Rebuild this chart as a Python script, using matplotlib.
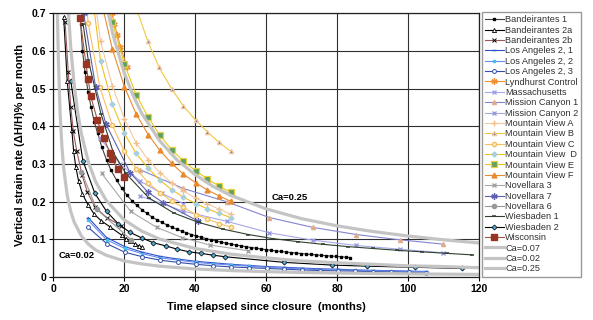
import matplotlib
matplotlib.use('Agg')
import matplotlib.pyplot as plt

plt.rcParams['font.family'] = ['Liberation Sans', 'DejaVu Sans']
plt.rcParams['font.weight'] = 'bold'

# ── data (time in months, strain rate in % per month) ──────────────
band1_t = [7.8, 8.3, 9.0, 9.9, 10.7, 11.6, 12.6, 13.7, 15.1, 16.3, 17.9, 19.4,
           20.8, 22.2, 23.6, 25.0, 26.4, 27.8, 29.2, 30.6, 32.0, 33.4, 34.8,
           36.2, 37.6, 39.0, 40.4, 41.8, 43.2, 44.6, 46.0, 47.4, 48.8, 50.2,
           51.6, 53.0, 54.4, 55.8, 57.2, 58.6, 60.0, 61.4, 62.8, 64.2, 65.6,
           67.0, 68.4, 69.8, 71.2, 72.6, 74.0, 75.4, 76.8, 78.2, 79.6, 81.0,
           82.4, 83.7]
band1_r = [0.671, 0.600, 0.545, 0.490, 0.452, 0.412, 0.381, 0.346, 0.310, 0.284,
           0.257, 0.235, 0.2175, 0.2027, 0.190, 0.179, 0.169, 0.160, 0.152,
           0.145, 0.139, 0.133, 0.127, 0.122, 0.1175, 0.113, 0.109, 0.1055,
           0.102, 0.0987, 0.0957, 0.0928, 0.090, 0.0875, 0.085, 0.083, 0.0805,
           0.0785, 0.0766, 0.0747, 0.0728, 0.0712, 0.0696, 0.068, 0.0666,
           0.0652, 0.0639, 0.0626, 0.0614, 0.0602, 0.059, 0.0579, 0.0569,
           0.0559, 0.0549, 0.054, 0.053, 0.052]

band2a_t = [3.0, 4.0, 5.3, 5.8, 6.4, 7.2, 8.3, 9.9, 11.6, 13.5, 16.1, 19.4,
            20.5, 21.7, 23.1, 24.2, 25.2]
band2a_r = [0.69, 0.52, 0.390, 0.335, 0.293, 0.255, 0.220, 0.191, 0.167, 0.150,
            0.133, 0.111, 0.102, 0.095, 0.088, 0.083, 0.079]

band2b_t = [3.4, 4.3, 5.0, 5.7, 6.7, 8.2, 9.7, 11.8, 15.1, 19.2]
band2b_r = [0.677, 0.543, 0.452, 0.387, 0.334, 0.270, 0.225, 0.186, 0.158, 0.136]

la_t = [9.9, 15.1, 20.2, 25.2, 30.2, 35.2, 40.2, 45.2, 50.2, 55.2, 60.2,
        65.2, 70.2, 75.2, 80.2, 85.2, 90.2, 95.2, 100.2, 105.2]
la1_r = [0.158, 0.105, 0.081, 0.066, 0.055, 0.048, 0.042, 0.038, 0.034, 0.031,
         0.028, 0.026, 0.024, 0.022, 0.021, 0.019, 0.018, 0.017, 0.016, 0.015]
la2_r = [0.151, 0.099, 0.076, 0.062, 0.051, 0.045, 0.039, 0.035, 0.032, 0.029,
         0.026, 0.024, 0.022, 0.020, 0.019, 0.018, 0.017, 0.016, 0.015, 0.014]
la3_r = [0.132, 0.089, 0.066, 0.054, 0.045, 0.039, 0.034, 0.030, 0.027, 0.025,
         0.023, 0.021, 0.019, 0.0175, 0.0165, 0.0155, 0.0145, 0.0135, 0.0125,
         0.0115]

lynd_t = [16.6, 17.3, 18.1, 19.0, 20.9]
lynd_r = [0.700, 0.672, 0.642, 0.611, 0.556]

mass_t = [13.2, 18.9, 24.5, 30.6, 36.7]
mass_r = [0.370, 0.300, 0.255, 0.222, 0.195]

mc_t = [24.5, 36.7, 48.9, 60.9, 73.1, 85.4, 97.6, 109.8]
mc1_r = [0.285, 0.235, 0.200, 0.158, 0.132, 0.113, 0.099, 0.0875]
mc2_r = [0.215, 0.175, 0.148, 0.1176, 0.098, 0.084, 0.074, 0.0645]

mv_t = [10.1, 13.4, 16.7, 20.1, 23.4, 26.8, 30.1, 33.4, 36.7, 40.2, 43.5,
        46.8, 50.0]
mva_r = [0.85, 0.625, 0.507, 0.420, 0.356, 0.311, 0.277, 0.250, 0.228, 0.210,
         0.194, 0.180, 0.167]
mvd_r = [0.82, 0.573, 0.459, 0.381, 0.328, 0.289, 0.257, 0.232, 0.212, 0.195,
         0.181, 0.169, 0.158]
mvc_t = [6.6, 9.9, 13.2, 16.7, 20.0, 23.4, 26.8, 30.1, 33.4, 36.7, 40.2,
         43.5, 46.8, 50.0]
mvc_r = [1.0, 0.674, 0.503, 0.403, 0.335, 0.288, 0.250, 0.224, 0.2015, 0.185,
         0.166, 0.154, 0.142, 0.133]
mvb_t = [23.4, 26.7, 29.9, 33.4, 36.7, 40.2, 43.5, 46.8, 50.0]
mvb_r = [0.715, 0.625, 0.556, 0.4995, 0.454, 0.416, 0.385, 0.357, 0.334]
mve_t = [13.4, 16.7, 20.1, 23.4, 26.8, 30.1, 33.4, 36.7, 40.2, 43.5, 46.8, 50.0]
mve_r = [0.83, 0.677, 0.565, 0.484, 0.424, 0.376, 0.338, 0.308, 0.282, 0.260,
         0.241, 0.225]
mvf_t = [13.4, 16.7, 20.1, 23.4, 26.8, 30.1, 33.4, 36.7, 40.2, 43.5, 46.8, 50.0]
mvf_r = [0.74, 0.605, 0.505, 0.433, 0.378, 0.336, 0.302, 0.273, 0.250, 0.231,
         0.215, 0.2015]

nov3_t = [13.7, 21.9, 29.2, 36.3, 44.2, 55.0]
nov3_r = [0.275, 0.174, 0.132, 0.105, 0.085, 0.070]
nov7_t = [8.6, 12.0, 14.9, 21.7, 26.8, 31.1, 40.9]
nov7_r = [0.700, 0.504, 0.406, 0.277, 0.2245, 0.197, 0.1485]
nov6_t = [8.0, 12.3, 22.0]
nov6_r = [0.280, 0.180, 0.099]

wies1_t = [8.5, 9.9, 13.5, 17, 20.5, 27, 34, 41, 48, 55, 62, 69, 76, 83, 90,
           97, 104, 111, 118]
wies1_r = [0.670, 0.577, 0.433, 0.330, 0.275, 0.210, 0.170, 0.145, 0.127, 0.113,
           0.102, 0.094, 0.087, 0.081, 0.076, 0.071, 0.067, 0.063, 0.059]
wies2_t = [5.0, 8.4, 11.8, 15.1, 18.4, 21.7, 25.0, 28.3, 31.7, 35.0, 38.4,
           41.7, 45.2, 48.5, 65.2, 78.5, 88.5, 102, 115.3]
wies2_r = [0.520, 0.309, 0.222, 0.174, 0.141, 0.1185, 0.104, 0.091, 0.083,
           0.074, 0.067, 0.063, 0.058, 0.054, 0.039, 0.032, 0.029, 0.026, 0.023]

wisc_t = [7.6, 9.3, 9.9, 10.6, 12.5, 13.3, 14.3, 16.1, 16.6, 18.4, 20.0]
wisc_r = [0.687, 0.564, 0.525, 0.480, 0.417, 0.393, 0.369, 0.328, 0.312, 0.286,
          0.2645]

ca07_t = [4.2, 5, 6, 7, 8, 10, 12, 15, 20, 25, 30, 40, 50, 60, 70, 80, 90,
          100, 110, 120]
ca07_r = [0.724, 0.608, 0.507, 0.434, 0.380, 0.304, 0.253, 0.203, 0.152, 0.122,
          0.101, 0.076, 0.061, 0.051, 0.043, 0.038, 0.034, 0.030, 0.028, 0.025]
ca02_t = [1.2, 1.5, 2, 2.5, 3, 4, 5, 6, 8, 10, 12, 15, 20, 25, 30, 40, 50, 60,
          70, 80, 90, 100, 110, 120]
ca02_r = [0.72, 0.58, 0.434, 0.347, 0.289, 0.217, 0.174, 0.145, 0.109, 0.087,
          0.072, 0.058, 0.043, 0.035, 0.029, 0.0217, 0.0174, 0.0145, 0.0124,
          0.0109, 0.0096, 0.0087, 0.0079, 0.0072]
ca25_t = [15, 17, 20, 22.5, 25, 30, 35, 40, 45, 50, 60, 70, 80, 90, 100, 110,
          120]
ca25_r = [0.724, 0.639, 0.543, 0.483, 0.434, 0.362, 0.310, 0.272, 0.241, 0.217,
          0.181, 0.155, 0.136, 0.121, 0.109, 0.099, 0.0905]

AST = (6, 2, 0)   # asterisk marker
series = [
    ('Bandeirantes 1', band1_t, band1_r, dict(color='#404040', marker='s', ms=1.8, mfc='black', mec='black')),
    ('Bandeirantes 2a', band2a_t, band2a_r, dict(color='black', marker='^', ms=3, mfc='white', mec='black', mew=0.6)),
    ('Bandeirantes 2b', band2b_t, band2b_r, dict(color='#9A5A5A', marker='x', ms=3, mec='black', mew=0.7)),
    ('Los Angeles 2, 1', la_t, la1_r, dict(color='#3050C8', marker='_', ms=3.5, mec='#3050C8')),
    ('Los Angeles 2, 2', la_t, la2_r, dict(color='#6A8CF0', marker='s', ms=2, mfc='#40C0F0', mec='#40C0F0')),
    ('Los Angeles 2, 3', la_t, la3_r, dict(color='#3450A8', marker='o', ms=2.8, mfc='white', mec='#3450A8', mew=0.7)),
    ('Lyndhurst Control', lynd_t, lynd_r, dict(color='#F09030', marker=AST, ms=4.5, mec='#F09030')),
    ('Massachusetts', mass_t, mass_r, dict(color='#A8A8F0', marker='x', ms=3, mec='#A0A0E8')),
    ('Mission Canyon 1', mc_t, mc1_r, dict(color='#8484D0', marker='^', ms=3, mfc='#D8A070', mec='#E0B090')),
    ('Mission Canyon 2', mc_t, mc2_r, dict(color='#A8A8E8', marker='x', ms=3, mec='#9898E0')),
    ('Mountain View A', mv_t, mva_r, dict(color='#F5C9A0', marker='+', ms=4, mec='#F0C090')),
    ('Mountain View B', mvb_t, mvb_r, dict(color='#F0C840', marker='^', ms=3, mfc='#6A6A9A', mec='#F0C8A0')),
    ('Mountain View C', mvc_t, mvc_r, dict(color='#F5C060', marker='o', ms=3, mfc='#FFF0C8', mec='#F0C060')),
    ('Mountain View  D', mv_t, mvd_r, dict(color='#F0C020', marker='D', ms=2.5, mfc='#A8D0DC', mec='#A8D0DC')),
    ('Mountain View E', mve_t, mve_r, dict(color='#E8C820', marker='s', ms=3.8, mfc='#60A060', mec='#E8D040', mew=0.9)),
    ('Mountain View F', mvf_t, mvf_r, dict(color='#E88A30', marker='^', ms=3.5, mfc='#E88A30', mec='#E88A30')),
    ('Novellara 3', nov3_t, nov3_r, dict(color='#A8A8A8', marker='x', ms=3, mec='#A0A0A0')),
    ('Novellara 7', nov7_t, nov7_r, dict(color='#6060B0', marker=AST, ms=4.5, mec='#6060B0')),
    ('Novellara 6', nov6_t, nov6_r, dict(color='#999999', marker='o', ms=3, mfc='#999999', mec='#999999')),
    ('Wiesbaden 1', wies1_t, wies1_r, dict(color='#2F402F', marker='_', ms=3.5, mec='#2F402F', mew=1.1)),
    ('Wiesbaden 2', wies2_t, wies2_r, dict(color='black', marker='D', ms=2.6, mfc='#50A8D0', mec='black', mew=0.5)),
    ('Wisconsin', wisc_t, wisc_r, dict(color='#A05545', marker='s', ms=4, mfc='#993322', mec='#993322')),
    ('Ca=0.07', ca07_t, ca07_r, dict(color='#C4C4C4', lw=2.3)),
    ('Ca=0.02', ca02_t, ca02_r, dict(color='#C4C4C4', lw=2.3)),
    ('Ca=0.25', ca25_t, ca25_r, dict(color='#C4C4C4', lw=2.3)),
]

fig = plt.figure(figsize=(5.93, 3.2), dpi=100)
ax = fig.add_axes([0.0894, 0.134, 0.7184, 0.825])

for label, t, r, st in series:
    st = dict(st)
    st.setdefault('lw', 0.8)
    ax.plot(t, r, label=label, **st)

ax.set_xlim(0, 120)
ax.set_ylim(0, 0.7)
ax.set_xticks(range(0, 121, 20))
ax.set_yticks([0, 0.1, 0.2, 0.3, 0.4, 0.5, 0.6, 0.7])
ax.set_yticklabels(['0', '0.1', '0.2', '0.3', '0.4', '0.5', '0.6', '0.7'])
ax.grid(True, color='#303030', lw=0.8)
ax.set_axisbelow(True)
for s in ax.spines.values():
    s.set_color('#202020')
    s.set_linewidth(0.9)
ax.tick_params(direction='out', length=3, width=0.8, labelsize=7.5, pad=2)
for lab in ax.get_xticklabels() + ax.get_yticklabels():
    lab.set_fontweight('bold')

ax.set_xlabel('Time elapsed since closure  (months)', fontsize=8, fontweight='bold', labelpad=6)
ax.set_ylabel('Vertical strain rate (ΔH/H)% per month', fontsize=8, fontweight='bold', labelpad=5)

ax.text(61.5, 0.21, 'Ca=0.25', fontsize=6.8, fontweight='bold', va='center')
ax.text(1.5, 0.058, 'Ca=0.02', fontsize=6.8, fontweight='bold', va='center')

leg = fig.legend(loc='upper left', bbox_to_anchor=(0.813, 0.962), fontsize=6.6,
                 frameon=True, fancybox=False, edgecolor='#808080',
                 labelspacing=0.15, handlelength=2.0, handletextpad=0.15,
                 borderpad=0.35, borderaxespad=0.0)
leg.get_frame().set_linewidth(1.0)
leg.set_zorder(5)
for txt in leg.get_texts():
    txt.set_fontweight('normal')
    txt.set_color('#303030')

fig.savefig('out.png', dpi=100, facecolor='white')
